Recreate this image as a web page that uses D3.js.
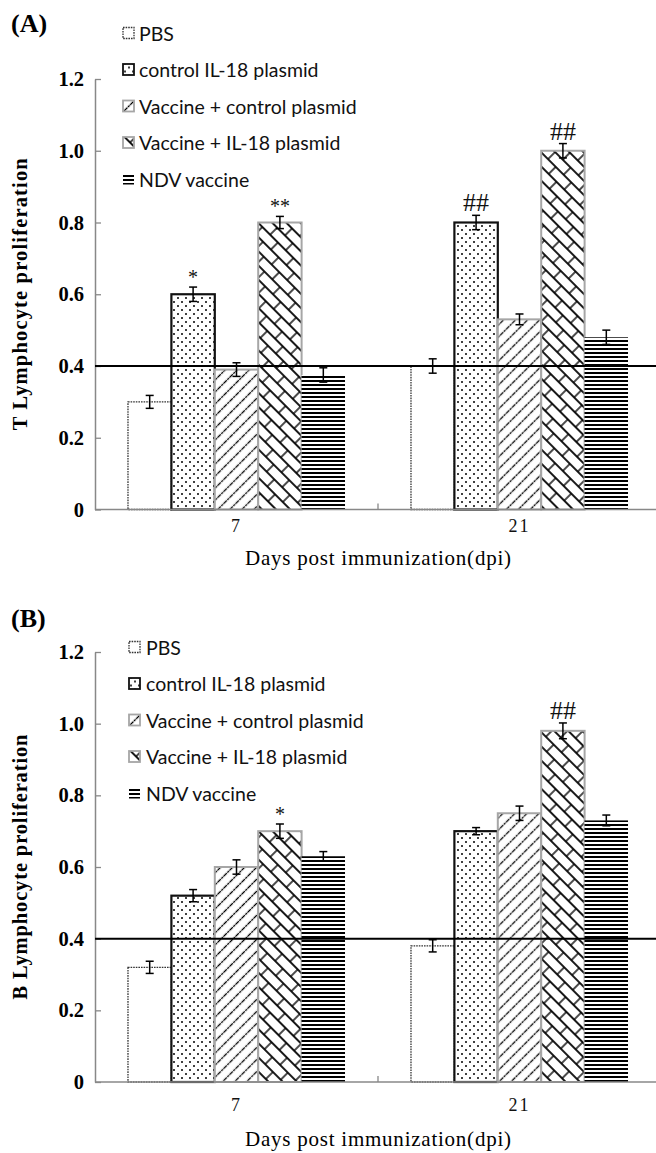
<!DOCTYPE html>
<html><head><meta charset="utf-8">
<script src="https://cdn.jsdelivr.net/npm/d3@7"></script>
<style>body{margin:0;background:#fff}svg{display:block}</style>
</head><body>
<svg id="chart" width="656" height="1153"></svg>
<script>
// ---------- data ----------
const days = ["7", "21"];
const groups = ["PBS", "control IL-18 plasmid", "Vaccine + control plasmid", "Vaccine + IL-18 plasmid", "NDV vaccine"];
const yTicks = [0, 0.2, 0.4, 0.6, 0.8, 1.0, 1.2];
const yTickLabels = ["0", "0.2", "0.4", "0.6", "0.8", "1.0", "1.2"];
const refValue = 0.4;

// (A) T lymphocyte proliferation: [day 7, day 21] per group
const tPBS      = [0.30, 0.40];
const tCtrlIL18 = [0.60, 0.80];
const tVacCtrl  = [0.39, 0.53];
const tVacIL18  = [0.80, 1.00];
const tNDV      = [0.375, 0.48];
const tErr   = [[0.018, 0.02], [0.02, 0.02], [0.019, 0.015], [0.017, 0.02], [0.02, 0.02]];
const tMarks = [["", ""], ["*", "##"], ["", ""], ["**", "##"], ["", ""]];

// (B) B lymphocyte proliferation
const bPBS      = [0.32, 0.38];
const bCtrlIL18 = [0.52, 0.70];
const bVacCtrl  = [0.60, 0.75];
const bVacIL18  = [0.70, 0.98];
const bNDV      = [0.63, 0.73];
const bErr   = [[0.017, 0.017], [0.017, 0.01], [0.02, 0.02], [0.02, 0.022], [0.013, 0.015]];
const bMarks = [["", ""], ["", ""], ["", ""], ["*", "##"], ["", ""]];

// ---------- styles ----------
const SERIF = "'Liberation Serif','Times New Roman',serif";
const SANS = "Lato,'Open Sans',sans-serif";
const svg = d3.select("#chart");
const defs = svg.append("defs");

// patterns
const pDots = defs.append("pattern").attr("id", "dots").attr("patternUnits", "userSpaceOnUse").attr("width", 8).attr("height", 8);
pDots.append("rect").attr("width", 8).attr("height", 8).attr("fill", "#fff");
pDots.append("circle").attr("cx", 2).attr("cy", 2).attr("r", 1).attr("fill", "#000");
pDots.append("circle").attr("cx", 6).attr("cy", 6).attr("r", 1).attr("fill", "#000");

const pDiag = defs.append("pattern").attr("id", "diag").attr("patternUnits", "userSpaceOnUse").attr("width", 8.5).attr("height", 8.5).attr("patternTransform", "rotate(45)");
pDiag.append("rect").attr("width", 8.5).attr("height", 8.5).attr("fill", "#fff");
pDiag.append("line").attr("x1", 4.25).attr("x2", 4.25).attr("y1", 0).attr("y2", 8.5).attr("stroke", "#000").attr("stroke-width", 1.3).attr("stroke-dasharray", "2.5 0.7");

const BW = 22, BH = 20;
const pBrick = defs.append("pattern").attr("id", "brick").attr("patternUnits", "userSpaceOnUse").attr("width", BW).attr("height", BH).attr("patternTransform", "rotate(45)");
pBrick.append("rect").attr("width", BW).attr("height", BH).attr("fill", "#fff");
[[0, 5, BW, 5, 1.8], [0, 15, BW, 15, 1.8], [5, 5, 5, 15, 1.4], [16, 15, 16, 20, 1.4], [16, 0, 16, 5, 1.4]].forEach(l =>
  pBrick.append("line").attr("x1", l[0]).attr("y1", l[1]).attr("x2", l[2]).attr("y2", l[3]).attr("stroke", "#000").attr("stroke-width", l[4]));

const pStripes = defs.append("pattern").attr("id", "stripes").attr("patternUnits", "userSpaceOnUse").attr("width", 4).attr("height", 4);
pStripes.append("rect").attr("width", 4).attr("height", 4).attr("fill", "#fff");
pStripes.append("rect").attr("width", 4).attr("height", 2).attr("fill", "#000");

const groupStyle = [
  {fill: "#fff", stroke: "#333", sw: 1.3, dash: "1.6 1"},
  {fill: "url(#dots)", stroke: "#111", sw: 2.2, dash: null},
  {fill: "url(#diag)", stroke: "#a6a6a6", sw: 2, dash: null},
  {fill: "url(#brick)", stroke: "#a6a6a6", sw: 2, dash: null},
  {fill: "url(#stripes)", stroke: "none", sw: 0, dash: null}
];

function panel(cfg) {
  const g = svg.append("g");
  const x0 = d3.scaleBand().domain(days).range([95, 661]).padding(0);
  const x1 = d3.scaleBand().domain(groups).range([0, x0.bandwidth()]).paddingInner(0).paddingOuter(0.76);
  const y = d3.scaleLinear().domain([0, 1.2]).range([cfg.bottom, cfg.top]);

  const rows = [];
  days.forEach((d, di) => groups.forEach((gr, gi) => rows.push({
    day: d, group: gr, gi, v: cfg.values[gi][di], e: cfg.err[gi][di], mark: cfg.marks[gi][di]
  })));

  // bars
  g.selectAll("rect.bar").data(rows).join("rect").attr("class", "bar")
    .attr("x", r => x0(r.day) + x1(r.group))
    .attr("width", x1.bandwidth())
    .attr("y", r => y(r.v))
    .attr("height", r => y(0) - y(r.v))
    .attr("fill", r => groupStyle[r.gi].fill)
    .attr("stroke", r => groupStyle[r.gi].stroke)
    .attr("stroke-width", r => groupStyle[r.gi].sw)
    .attr("stroke-dasharray", r => groupStyle[r.gi].dash);

  // y axis (inward ticks)
  const ya = g.append("g").attr("transform", "translate(95,0)")
    .call(d3.axisLeft(y).tickValues(yTicks).tickFormat((d, i) => yTickLabels[i]).tickSizeInner(-6).tickSizeOuter(0).tickPadding(11));
  ya.select(".domain").attr("stroke", "#888").attr("stroke-width", 1.5);
  ya.selectAll(".tick line").attr("stroke", "#888").attr("stroke-width", 1.3);
  ya.selectAll(".tick text").attr("font-family", SERIF).attr("font-weight", "bold").attr("font-size", 20.5).attr("fill", "#000");

  // x axis
  const xa = g.append("g").attr("transform", `translate(0,${cfg.bottom})`)
    .call(d3.axisBottom(x0).tickSize(0).tickPadding(cfg.xPad));
  xa.select(".domain").remove();
  xa.selectAll(".tick text").attr("font-family", SERIF).attr("font-size", 18).attr("letter-spacing", "2px").attr("fill", "#111");
  g.append("line").attr("x1", 95).attr("x2", 656).attr("y1", y(0)).attr("y2", y(0)).attr("stroke", "#888").attr("stroke-width", 1.5);
  g.selectAll("line.xt").data(days).join("line").attr("class", "xt")
    .attr("x1", d => x0(d) + x0.bandwidth()).attr("x2", d => x0(d) + x0.bandwidth())
    .attr("y1", y(0)).attr("y2", y(0) - 6).attr("stroke", "#888").attr("stroke-width", 1.3);

  // reference line
  g.append("line").attr("x1", 95).attr("x2", 656).attr("y1", y(refValue)).attr("y2", y(refValue)).attr("stroke", "#000").attr("stroke-width", 2);

  // error bars
  const cx = r => x0(r.day) + x1(r.group) + x1.bandwidth() / 2;
  const eb = g.selectAll("g.eb").data(rows).join("g").attr("class", "eb").attr("stroke", "#000").attr("stroke-width", 1.5);
  eb.append("line").attr("x1", cx).attr("x2", cx).attr("y1", r => y(r.v - r.e)).attr("y2", r => y(r.v + r.e));
  eb.append("line").attr("x1", r => cx(r) - 4).attr("x2", r => cx(r) + 4).attr("y1", r => y(r.v + r.e)).attr("y2", r => y(r.v + r.e));
  eb.append("line").attr("x1", r => cx(r) - 4).attr("x2", r => cx(r) + 4).attr("y1", r => y(r.v - r.e)).attr("y2", r => y(r.v - r.e));

  // significance marks
  g.selectAll("text.mark").data(rows.filter(r => r.mark)).join("text").attr("class", "mark")
    .attr("x", cx)
    .attr("y", r => y(r.v + r.e) - (r.mark[0] === "#" ? 4 : 3))
    .attr("text-anchor", "middle")
    .attr("font-family", SERIF)
    .attr("font-size", r => r.mark[0] === "#" ? 26 : 20)
    .attr("fill", "#111")
    .text(r => r.mark);

  // axis titles
  g.append("text").attr("transform", `translate(27,${(cfg.top + cfg.bottom) / 2}) rotate(-90)`)
    .attr("text-anchor", "middle").attr("font-family", SERIF).attr("font-weight", "bold").attr("font-size", 20.5)
    .attr("textLength", cfg.yTitleLen).attr("lengthAdjust", "spacing")
    .text(cfg.yTitle);
  g.append("text").attr("x", (95 + 661) / 2).attr("y", cfg.xTitleY)
    .attr("text-anchor", "middle").attr("font-family", SERIF).attr("font-size", 21)
    .attr("textLength", 266).attr("lengthAdjust", "spacing")
    .text("Days post immunization(dpi)");

  // panel label
  g.append("text").attr("x", 11).attr("y", cfg.labelY).attr("font-family", SERIF).attr("font-weight", "bold").attr("font-size", 26).text(cfg.label);

  // legend
  const lg = g.selectAll("g.leg").data(groups).join("g").attr("class", "leg")
    .attr("transform", (d, i) => `translate(${cfg.legX},${cfg.legY + i * 36.5})`);
  lg.append("rect").attr("x", 0).attr("y", -5.5).attr("width", 11).attr("height", 11)
    .attr("fill", (d, i) => groupStyle[i].fill)
    .attr("stroke", (d, i) => groupStyle[i].stroke)
    .attr("stroke-width", (d, i) => Math.min(groupStyle[i].sw, 1.8))
    .attr("stroke-dasharray", (d, i) => groupStyle[i].dash);
  lg.append("text").attr("x", cfg.legTextDx).attr("y", 0).attr("dominant-baseline", "central")
    .attr("font-family", SANS).attr("font-size", 19.5).attr("fill", "#111").text(d => d);
}

panel({label: "(A)", labelY: 32, top: 79, bottom: 509.5, xPad: 10, xTitleY: 565,
  yTitle: "T Lymphocyte proliferation", yTitleLen: 272,
  values: [tPBS, tCtrlIL18, tVacCtrl, tVacIL18, tNDV], err: tErr, marks: tMarks,
  legX: 123, legY: 33, legTextDx: 16});
panel({label: "(B)", labelY: 627, top: 652, bottom: 1082, xPad: 16, xTitleY: 1146,
  yTitle: "B Lymphocyte proliferation", yTitleLen: 265,
  values: [bPBS, bCtrlIL18, bVacCtrl, bVacIL18, bNDV], err: bErr, marks: bMarks,
  legX: 129, legY: 647, legTextDx: 17});
</script>
</body></html>
